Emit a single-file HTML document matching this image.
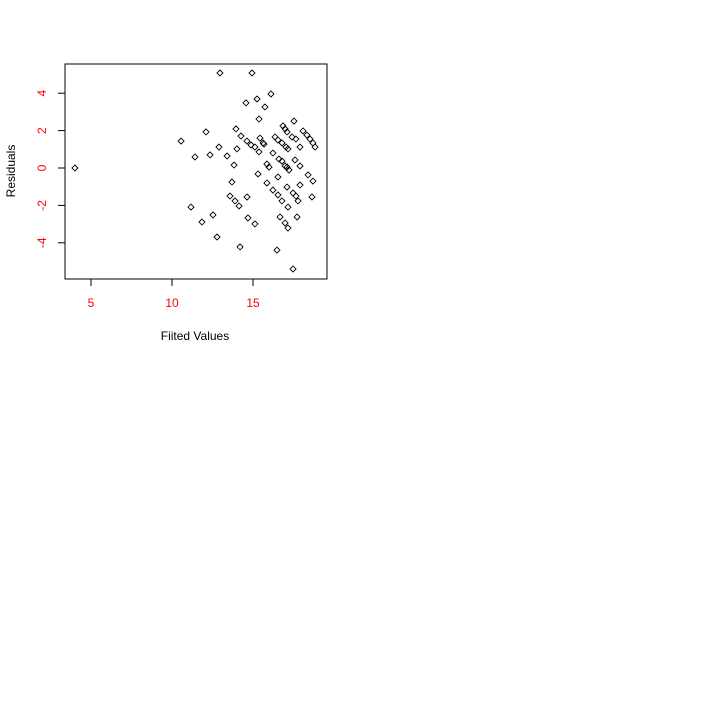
<!DOCTYPE html>
<html><head><meta charset="utf-8"><style>
body{margin:0;background:#fff;}
svg{display:block;font-family:"Liberation Sans",Arial,sans-serif;}
</style></head><body>
<svg id="chart" width="720" height="720">
<rect width="720" height="720" fill="#fff"/>
<g id="marks"></g>
<rect x="65" y="64" width="262" height="215" fill="none" stroke="#000"/>
<g id="axes"></g>
<text x="195" y="340" text-anchor="middle" font-size="12">Fiited Values</text>
<text transform="translate(15,171) rotate(-90)" text-anchor="middle" font-size="12">Residuals</text>
</svg>
<script>
const xTicks=[5,10,15];
const yTicks=[-4,-2,0,2,4];
const fitted=[4.01,10.56,11.42,12.10,12.35,12.90,13.40,13.95,14.01,14.26,14.63,14.88,15.12,15.37,12.96,14.94,16.11,15.25,14.57,15.74,15.37,17.53,16.85,16.98,17.10,17.41,17.65,17.90,18.09,18.33,18.52,18.70,18.83,15.43,15.62,15.68,16.36,16.54,16.79,17.04,17.16,16.23,16.60,16.79,16.98,17.59,17.90,15.86,15.99,13.83,17.10,17.22,18.40,18.70,15.31,16.54,13.70,15.86,16.23,17.10,17.90,17.47,17.65,17.78,18.64,13.58,13.89,14.14,14.63,16.54,16.79,17.16,11.17,11.85,12.53,12.78,14.69,15.12,16.67,16.98,17.16,17.72,14.20,16.48,17.47];
const residuals=[0,1.44,0.59,1.93,0.70,1.12,0.64,2.09,1.02,1.71,1.44,1.23,1.12,0.86,5.08,5.08,3.96,3.69,3.48,3.26,2.62,2.51,2.25,2.09,1.93,1.66,1.55,1.12,1.98,1.76,1.55,1.34,1.12,1.60,1.34,1.28,1.66,1.50,1.34,1.12,1.02,0.80,0.48,0.37,0.11,0.43,0.11,0.21,0.05,0.16,0.05,-0.11,-0.37,-0.70,-0.32,-0.48,-0.75,-0.80,-1.18,-1.02,-0.91,-1.34,-1.50,-1.76,-1.55,-1.50,-1.76,-2.03,-1.55,-1.44,-1.76,-2.09,-2.09,-2.89,-2.51,-3.69,-2.67,-2.99,-2.62,-2.94,-3.21,-2.62,-4.22,-4.39,-5.40];
const NS='http://www.w3.org/2000/svg';
function sx(v){return 91+(v-5)*16.2;}
function sy(v){return 168-v*18.7;}
const marks=document.getElementById('marks');
for(let i=0;i<fitted.length;i++){
  const x=sx(fitted[i]),y=sy(residuals[i]);
  const p=document.createElementNS(NS,'polygon');
  p.setAttribute('points',`${x},${y-3} ${x+3},${y} ${x},${y+3} ${x-3},${y}`);
  p.setAttribute('fill','none');p.setAttribute('stroke','#000');p.setAttribute('stroke-width','0.9');
  
  
  marks.appendChild(p);
}
const axes=document.getElementById('axes');
const xl=document.createElementNS(NS,'line');
xl.setAttribute('x1',sx(xTicks[0]));xl.setAttribute('x2',sx(xTicks[xTicks.length-1]));
xl.setAttribute('y1',279);xl.setAttribute('y2',279);xl.setAttribute('stroke','#000');


axes.appendChild(xl);
xTicks.forEach(t=>{
  const l=document.createElementNS(NS,'line');
  l.setAttribute('x1',sx(t));l.setAttribute('x2',sx(t));l.setAttribute('y1',279);l.setAttribute('y2',286);l.setAttribute('stroke','#000');
  
  
  axes.appendChild(l);
  const tx=document.createElementNS(NS,'text');
  tx.setAttribute('x',sx(t));tx.setAttribute('y',307);tx.setAttribute('text-anchor','middle');tx.setAttribute('font-size','12');tx.setAttribute('fill','#ff0000');
  tx.textContent=t;
  
  
  axes.appendChild(tx);
});
const yl=document.createElementNS(NS,'line');
yl.setAttribute('x1',65);yl.setAttribute('x2',65);
yl.setAttribute('y1',sy(yTicks[0]));yl.setAttribute('y2',sy(yTicks[yTicks.length-1]));yl.setAttribute('stroke','#000');


axes.appendChild(yl);
yTicks.forEach(t=>{
  const l=document.createElementNS(NS,'line');
  l.setAttribute('x1',58);l.setAttribute('x2',65);l.setAttribute('y1',sy(t));l.setAttribute('y2',sy(t));l.setAttribute('stroke','#000');
  
  
  axes.appendChild(l);
  const tx=document.createElementNS(NS,'text');
  tx.setAttribute('transform',`translate(46,${sy(t)}) rotate(-90)`);tx.setAttribute('text-anchor','middle');tx.setAttribute('font-size','12');tx.setAttribute('fill','#ff0000');
  tx.textContent=t;
  
  
  axes.appendChild(tx);
});
</script>
</body></html>
